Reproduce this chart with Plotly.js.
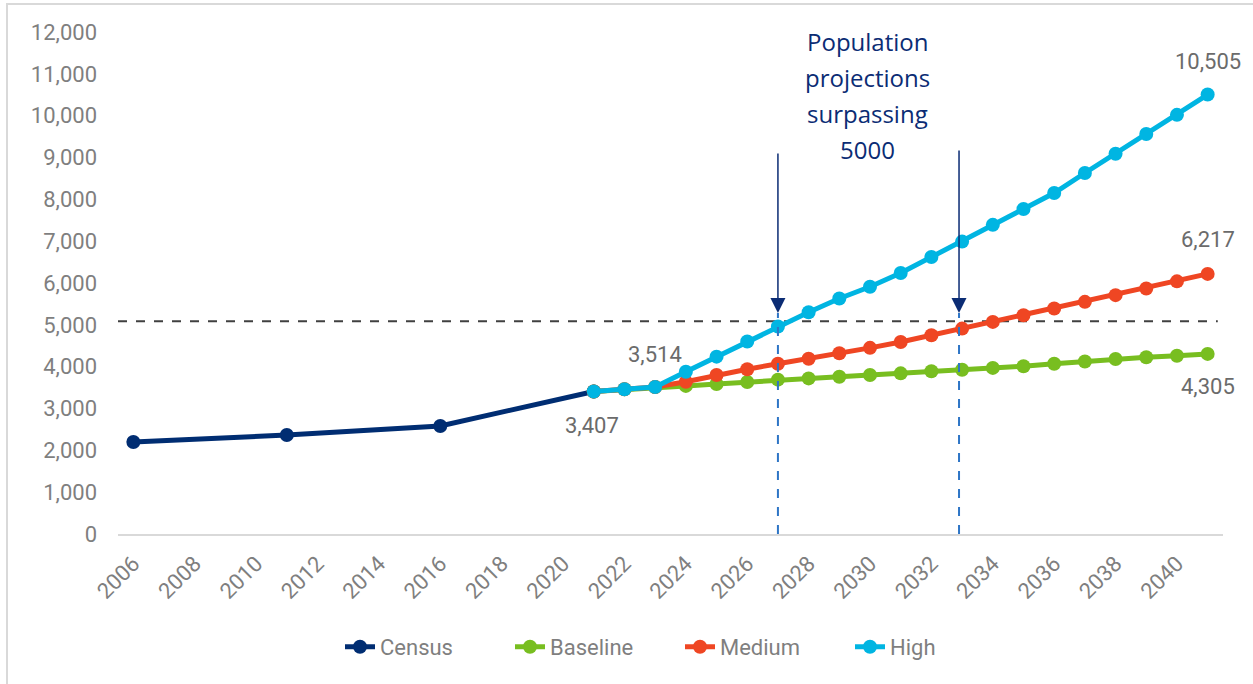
<!DOCTYPE html>
<html>
<head>
<meta charset="utf-8">
<script src="https://cdn.plot.ly/plotly-3.0.1.min.js"></script>
<style>
  html, body { margin: 0; padding: 0; background: #ffffff; }
  #frame { position: absolute; left: 6px; top: 3px; width: 1300px; height: 700px;
           border-left: 2px solid #d9d9d9; border-top: 2px solid #d9d9d9; pointer-events: none; z-index: 5; }
  #chart { position: absolute; left: 0; top: 0; width: 1253px; height: 684px; }
</style>
</head>
<body>
<div id="chart"></div>
<div id="frame"></div>
<script>
// ---- Data ----
const censusYears = [2006, 2011, 2016, 2021];
const censusValues = [2199, 2367, 2582, 3407];

const projYears = [2021, 2022, 2023, 2024, 2025, 2026, 2027, 2028, 2029, 2030,
                   2031, 2032, 2033, 2034, 2035, 2036, 2037, 2038, 2039, 2040, 2041];
const baselineValues = [3407, 3460, 3514, 3540, 3585, 3635, 3690, 3720, 3760, 3800,
                        3840, 3890, 3925, 3970, 4010, 4070, 4125, 4185, 4225, 4260, 4305];
const mediumValues = [3407, 3460, 3514, 3640, 3800, 3940, 4070, 4190, 4320, 4450,
                      4590, 4750, 4910, 5070, 5230, 5390, 5550, 5710, 5870, 6040, 6217];
const highValues = [3407, 3460, 3514, 3880, 4240, 4600, 4960, 5300, 5630, 5910,
                    6240, 6620, 6990, 7390, 7770, 8150, 8630, 9090, 9560, 10020, 10505];

const seriesNames = ["Census", "Baseline", "Medium", "High"];
const seriesColors = ["#002D72", "#78BE20", "#EF4623", "#00B5E2"];

const thresholdValue = 5085;
const surpassYears = [2027, 2032.9];
const noteLines = ["Population", "projections", "surpassing", "5000"];

// ---- Traces ----
const fontFam = "Roboto, 'Open Sans', sans-serif";
function lineTrace(x, y, i) {
  return {
    type: "scatter", mode: "lines+markers", x: x, y: y, name: seriesNames[i],
    line: { color: seriesColors[i], width: 5 },
    marker: { color: seriesColors[i], size: 14 },
    hoverinfo: "x+y"
  };
}
const data = [
  lineTrace(censusYears, censusValues, 0),
  lineTrace(projYears, baselineValues, 1),
  lineTrace(projYears, mediumValues, 2),
  lineTrace(projYears, highValues, 3)
];

// ---- Annotations ----
const fmt = v => v.toLocaleString("en-US");
const labelFont = { family: fontFam, size: 22, color: "#6b6b6b" };
const annotations = [
  { x: censusYears[3], y: censusValues[3], text: fmt(censusValues[3]), showarrow: false, yshift: -34, xshift: -2, font: labelFont },
  { x: projYears[2], y: highValues[2], text: fmt(highValues[2]), showarrow: false, yshift: 33, font: labelFont },
  { x: projYears[20], y: highValues[20], text: fmt(highValues[20]), showarrow: false, yshift: 33, font: labelFont },
  { x: projYears[20], y: mediumValues[20], text: fmt(mediumValues[20]), showarrow: false, yshift: 34, font: labelFont },
  { x: projYears[20], y: baselineValues[20], text: fmt(baselineValues[20]), showarrow: false, yshift: -33, font: labelFont }
];
const notePos = [11762, 10901, 10040, 9180];
noteLines.forEach((t, k) => {
  annotations.push({ x: 2029.93, y: notePos[k], text: t, showarrow: false,
    font: { family: "'Open Sans', sans-serif", size: 24, color: "#0B2C74" } });
});
const arrowTipY = 5283;
annotations.push({ x: surpassYears[0], y: arrowTipY, ax: 0, ay: -161, text: "", showarrow: true,
  arrowhead: 2, arrowsize: 2, arrowwidth: 1.5, arrowcolor: "#0B2C74", standoff: 0, startstandoff: 0 });
annotations.push({ x: surpassYears[1], y: arrowTipY, ax: 0, ay: -164, text: "", showarrow: true,
  arrowhead: 2, arrowsize: 2, arrowwidth: 1.5, arrowcolor: "#0B2C74", standoff: 0, startstandoff: 0 });

// ---- Shapes ----
const shapes = [
  { type: "line", xref: "x", yref: "y", x0: 2005.5, x1: 2041.33, y0: thresholdValue, y1: thresholdValue,
    line: { color: "#404040", width: 2, dash: "dash" }, layer: "below" },
  { type: "line", xref: "x", yref: "y", x0: surpassYears[0], x1: surpassYears[0], y0: 0, y1: arrowTipY,
    line: { color: "#2E75C6", width: 2, dash: "dash" }, layer: "above" },
  { type: "line", xref: "x", yref: "y", x0: surpassYears[1], x1: surpassYears[1], y0: 0, y1: arrowTipY,
    line: { color: "#2E75C6", width: 2, dash: "dash" }, layer: "above" }
];

const tickYears = [];
for (let y = 2006; y <= 2040; y += 2) tickYears.push(y);

const layout = {
  width: 1253, height: 684,
  margin: { l: 118, r: 30, t: 32, b: 150 },
  paper_bgcolor: "#ffffff", plot_bgcolor: "#ffffff",
  font: { family: fontFam, size: 22, color: "#7f7f7f" },
  xaxis: {
    range: [2005.5, 2041.5], tickvals: tickYears, ticktext: tickYears.map(String),
    tickangle: -45, showgrid: false, zeroline: false, showline: true,
    linecolor: "#d9d9d9", linewidth: 2, ticks: "",
    tickfont: { family: fontFam, size: 22, color: "#7f7f7f" }, ticklabelstandoff: 6
  },
  yaxis: {
    range: [0, 12000], dtick: 1000, tickformat: ",", showgrid: false, zeroline: false,
    showline: false, ticks: "", ticklabelstandoff: 20,
    tickfont: { family: fontFam, size: 22, color: "#7f7f7f" }
  },
  showlegend: true,
  legend: { orientation: "h", x: 0.2009, xanchor: "left", y: -0.225, yanchor: "middle",
    entrywidth: 125, entrywidthmode: "pixels",
    font: { family: fontFam, size: 22, color: "#7f7f7f" }, bgcolor: "rgba(0,0,0,0)" },
  annotations: annotations,
  shapes: shapes
};

Plotly.newPlot("chart", data, layout, { displayModeBar: false, staticPlot: true });
</script>
</body>
</html>
